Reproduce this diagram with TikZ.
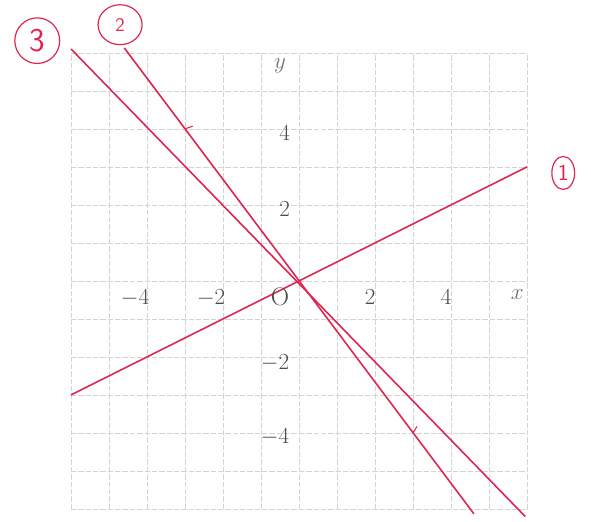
\documentclass[tikz,border=0pt]{standalone}
\usepackage{amsmath}
\usepackage{xcolor}
\usepackage{tikz}
\usetikzlibrary{shapes.geometric}
\definecolor{penred}{RGB}{222,38,80}
\definecolor{gridgray}{RGB}{212,212,212}

\begin{document}
\begin{tikzpicture}[x=1cm,y=1cm,
  gridline/.style={gridgray, line width=0.5pt, dash pattern=on 4pt off 1.5pt},
  graphline/.style={penred, line width=1.2pt},
  axislabel/.style={text=black!70, font=\fontsize{19}{22}\selectfont, inner sep=1pt},
  penlabel/.style={draw=penred, text=penred, line width=0.9pt, ellipse,
    inner sep=0pt, font=\sffamily}]
  \useasboundingbox (-7.87,-6.34) rectangle (7.68,7.39);
  \draw[gridline] (-6,-6) grid (6,6);
  \coordinate (O) at (0,0);
  \coordinate (L1a) at (-6,-3);
  \coordinate (L1b) at (6,3);
  \coordinate (L2a) at (-4.6,6.13);
  \coordinate (L2b) at (4.6,-6.13);
  \coordinate (L3a) at (-6,6.1);
  \coordinate (L3b) at (5.95,-6.2);
  \coordinate (P) at (-3,4);
  \coordinate (Q) at (3,-4);
  \draw[graphline] (L1a) -- (L1b);
  \draw[graphline] (L2a) -- (L2b);
  \draw[graphline] (L3a) -- (L3b);
  \draw[graphline, line width=0.8pt] (P) -- ++(0.2,0.07);
  \draw[graphline, line width=0.8pt] (Q) -- ++(0.1,0.17);
  \node[axislabel, text=black!55] (ylab) at (-0.5,5.65) {$y$};
  \node[axislabel, text=black!55] (xlab) at (5.74,-0.37) {$x$};
  \node[axislabel, anchor=north east] (orig) at (-0.22,-0.15) {O};
  \node[axislabel, anchor=north east] (xm4) at (-3.9,-0.2) {$-4$};
  \node[axislabel, anchor=north east] (xm2) at (-1.9,-0.2) {$-2$};
  \node[axislabel, anchor=north east] (xp2) at (2.05,-0.2) {$2$};
  \node[axislabel, anchor=north east] (xp4) at (4.05,-0.2) {$4$};
  \node[axislabel, anchor=east] (yp4) at (-0.2,3.9) {$4$};
  \node[axislabel, anchor=east] (yp2) at (-0.2,1.9) {$2$};
  \node[axislabel, anchor=east] (ym2) at (-0.22,-2.15) {$-2$};
  \node[axislabel, anchor=east] (ym4) at (-0.22,-4.1) {$-4$};
  \node[penlabel, minimum width=1.18cm, minimum height=1.2cm, font=\sffamily\Huge] (n3) at (-6.89,6.32) {3};
  \node[penlabel, minimum width=1.16cm, minimum height=1.05cm, font=\sffamily\Large] (n2) at (-4.71,6.74) {2};
  \node[penlabel, minimum width=0.6cm, minimum height=0.87cm, font=\sffamily\LARGE] (n1) at (6.95,2.84) {1};
\end{tikzpicture}
\end{document}
